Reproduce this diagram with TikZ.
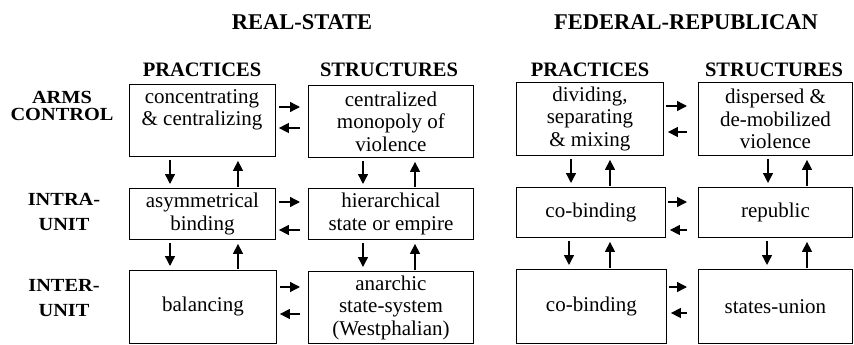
\documentclass[tikz,border=0pt]{standalone}
\usepackage{fontspec}
\setmainfont{Liberation Serif}
\newfontfamily\lblfont[FakeStretch=1.1]{Liberation Serif}
\usetikzlibrary{arrows.meta}
\tikzset{
  box/.style={draw, line width=0.9pt, inner sep=0pt, align=center, anchor=north west,
    font=\fontsize{21}{22.5}\selectfont},
  txt/.style={inner sep=0pt, align=center, font=\fontsize{21}{22.5}\selectfont},
  title/.style={inner sep=0pt, anchor=base, font=\fontsize{22.5}{24}\selectfont\bfseries},
  colhead/.style={inner sep=0pt, anchor=base, font=\fontsize{20.5}{22}\selectfont\bfseries},
  rowlab/.style={inner sep=0pt, align=center},
  arr/.style={-{Triangle[length=10pt,width=10pt]}, line width=1.4pt},
  rsh/.style={arr, shorten <=3pt, shorten >=8pt},
  lsh/.style={arr, shorten <=8pt, shorten >=3pt},
  frsh/.style={arr, shorten <=2pt, shorten >=11pt},
  flsh/.style={arr, shorten <=11pt, shorten >=4pt},
  dn/.style={arr, shorten <=3pt, shorten >=4pt},
  up/.style={arr, shorten <=1pt, shorten >=4pt},
}
\begin{document}
\begin{tikzpicture}[x=1pt,y=-1pt]
\useasboundingbox (0,0) rectangle (854,345);

% titles
\node[title] (t1) at (302,30) {REAL-STATE};
\node[title] (t2) at (686,30) {FEDERAL-REPUBLICAN};

% column headers
\node[colhead] (h1) at (202,77) {PRACTICES};
\node[colhead] (h2) at (389,77) {STRUCTURES};
\node[colhead] (h3) at (590,77) {PRACTICES};
\node[colhead] (h4) at (774,77) {STRUCTURES};

% row labels
\node[rowlab, font=\lblfont\bfseries\fontsize{18.5}{17.5}\selectfont] (l1) at (62,106) {ARMS\\CONTROL};
\node[rowlab, font=\lblfont\bfseries\fontsize{18.5}{25}\selectfont] (l2) at (64,212) {INTRA-\\UNIT};
\node[rowlab, font=\lblfont\bfseries\fontsize{18.5}{25}\selectfont] (l3) at (64,298) {INTER-\\UNIT};

% boxes: real-state
\node[box, minimum width=146pt, minimum height=72pt] (rp1) at (129,84) {};
\node[txt] (rp1t) at (202,110) {concentrating\\\& centralizing};
\node[box, minimum width=165pt, minimum height=72pt] (rs1) at (308,85) {centralized\\monopoly of\\violence};
\node[box, minimum width=146pt, minimum height=51pt] (rp2) at (129,188) {asymmetrical\\binding};
\node[box, minimum width=165pt, minimum height=51pt] (rs2) at (308,188) {hierarchical\\state or empire};
\node[box, minimum width=147pt, minimum height=73pt] (rp3) at (129,270) {balancing};
\node[box, minimum width=165pt, minimum height=72pt] (rs3) at (308,271) {anarchic\\state-system\\(Westphalian)};

% boxes: federal-republican
\node[box, minimum width=147pt, minimum height=73pt] (fp1) at (516,82) {dividing,\\separating\\\& mixing};
\node[box, minimum width=154pt, minimum height=73pt] (fs1) at (698,82) {dispersed \&\\de-mobilized\\violence};
\node[box, minimum width=149pt, minimum height=50pt] (fp2) at (516,187) {co-binding};
\node[box, minimum width=154pt, minimum height=50pt] (fs2) at (698,187) {republic};
\node[box, minimum width=150pt, minimum height=74pt] (fp3) at (516,269) {co-binding};
\node[box, minimum width=154pt, minimum height=74pt] (fs3) at (698,269) {states-union};

% horizontal arrows: real-state
\draw[rsh] (rp1.east |- 0,107) -- (rs1.west |- 0,107);
\draw[lsh] (rs1.west |- 0,128) -- (rp1.east |- 0,128);
\draw[rsh] (rp2.east |- 0,202) -- (rs2.west |- 0,202);
\draw[lsh] (rs2.west |- 0,230) -- (rp2.east |- 0,230);
\draw[rsh] (rp3.east |- 0,287) -- (rs3.west |- 0,287);
\draw[lsh] (rs3.west |- 0,314) -- (rp3.east |- 0,314);

% horizontal arrows: federal
\draw[frsh] (fp1.east |- 0,106) -- (fs1.west |- 0,106);
\draw[flsh] (fs1.west |- 0,132) -- (fp1.east |- 0,132);
\draw[frsh] (fp2.east |- 0,202) -- (fs2.west |- 0,202);
\draw[flsh] (fs2.west |- 0,230) -- (fp2.east |- 0,230);
\draw[frsh] (fp3.east |- 0,287) -- (fs3.west |- 0,287);
\draw[flsh] (fs3.west |- 0,313) -- (fp3.east |- 0,313);

% vertical arrows: real-state practices
\draw[dn] (rp1.south -| 170,0) -- (rp2.north -| 170,0);
\draw[up] (rp2.north -| 238,0) -- (rp1.south -| 238,0);
\draw[dn] (rp2.south -| 170,0) -- (rp3.north -| 170,0);
\draw[up] (rp3.north -| 238,0) -- (rp2.south -| 238,0);
% real-state structures
\draw[dn] (rs1.south -| 363,0) -- (rs2.north -| 363,0);
\draw[up] (rs2.north -| 415,0) -- (rs1.south -| 415,0);
\draw[dn] (rs2.south -| 363,0) -- (rs3.north -| 363,0);
\draw[up] (rs3.north -| 415,0) -- (rs2.south -| 415,0);
% federal practices
\draw[dn] (fp1.south -| 571,0) -- (fp2.north -| 571,0);
\draw[up] (fp2.north -| 610,0) -- (fp1.south -| 610,0);
\draw[dn] (fp2.south -| 569,0) -- (fp3.north -| 569,0);
\draw[up] (fp3.north -| 610,0) -- (fp2.south -| 610,0);
% federal structures
\draw[dn] (fs1.south -| 768,0) -- (fs2.north -| 768,0);
\draw[up] (fs2.north -| 807,0) -- (fs1.south -| 807,0);
\draw[dn] (fs2.south -| 767,0) -- (fs3.north -| 767,0);
\draw[up] (fs3.north -| 807,0) -- (fs2.south -| 807,0);
\end{tikzpicture}
\end{document}
